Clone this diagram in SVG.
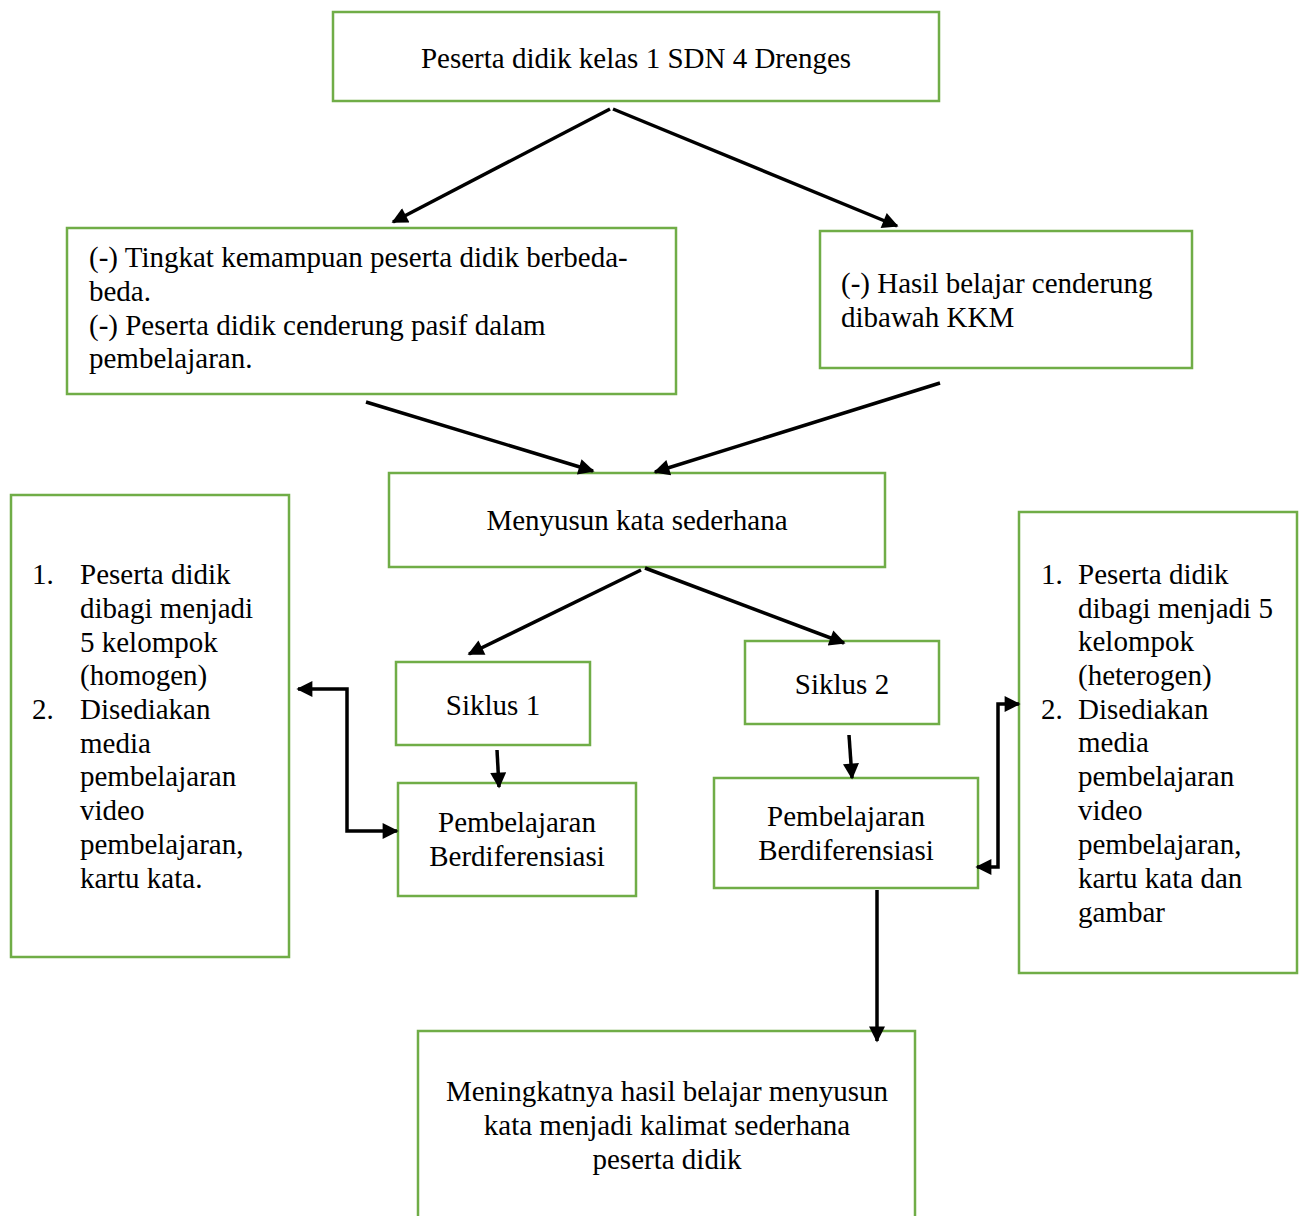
<svg xmlns="http://www.w3.org/2000/svg" width="1305" height="1216" viewBox="0 0 1305 1216">
<defs>
<marker id="ah" viewBox="0 0 10 10" refX="9" refY="5" markerWidth="19" markerHeight="16" markerUnits="userSpaceOnUse" orient="auto-start-reverse">
<path d="M0,0 L10,5 L0,10 Z" fill="#000"/>
</marker>
<style>
.box{fill:#fff;stroke:#70AD47;stroke-width:2.5}
.t{font-family:"Liberation Serif","Times New Roman",serif;font-size:29px;fill:#000}
.c{text-anchor:middle}
.ln{fill:none;stroke:#000;stroke-width:3.5}
</style>
</defs>
<rect width="1305" height="1216" fill="#fff"/>
<g id="n-top"><rect class="box" x="333" y="12" width="606" height="89"/><text class="t c" x="636" y="68">Peserta didik kelas 1 SDN 4 Drenges</text></g>
<g id="n-masalah1"><rect class="box" x="67" y="228" width="609" height="166"/><text class="t" x="89" y="267">(-) Tingkat kemampuan peserta didik berbeda-</text><text class="t" x="89" y="301">beda.</text><text class="t" x="89" y="335">(-) Peserta didik cenderung pasif dalam</text><text class="t" x="89" y="368">pembelajaran.</text></g>
<g id="n-masalah2"><rect class="box" x="820" y="231" width="372" height="137"/><text class="t" x="841" y="293">(-) Hasil belajar cenderung</text><text class="t" x="841" y="327">dibawah KKM</text></g>
<g id="n-menyusun"><rect class="box" x="389" y="473" width="496" height="94"/><text class="t c" x="637" y="530">Menyusun kata sederhana</text></g>
<g id="n-kiri"><rect class="box" x="11" y="495" width="278" height="462"/>
<text class="t" x="32" y="584">1.</text><text class="t" x="80" y="584">Peserta didik</text><text class="t" x="80" y="618">dibagi menjadi</text><text class="t" x="80" y="652">5 kelompok</text><text class="t" x="80" y="685">(homogen)</text><text class="t" x="32" y="719">2.</text><text class="t" x="80" y="719">Disediakan</text><text class="t" x="80" y="753">media</text><text class="t" x="80" y="786">pembelajaran</text><text class="t" x="80" y="820">video</text><text class="t" x="80" y="854">pembelajaran,</text><text class="t" x="80" y="888">kartu kata.</text></g>
<g id="n-siklus1"><rect class="box" x="396" y="662" width="194" height="83"/><text class="t c" x="493" y="715">Siklus 1</text></g>
<g id="n-siklus2"><rect class="box" x="745" y="641" width="194" height="83"/><text class="t c" x="842" y="694">Siklus 2</text></g>
<g id="n-pemb1"><rect class="box" x="398" y="783" width="238" height="113"/><text class="t c" x="517" y="832">Pembelajaran</text><text class="t c" x="517" y="866">Berdiferensiasi</text></g>
<g id="n-pemb2"><rect class="box" x="714" y="778" width="264" height="110"/><text class="t c" x="846" y="826">Pembelajaran</text><text class="t c" x="846" y="860">Berdiferensiasi</text></g>
<g id="n-kanan"><rect class="box" x="1019" y="512" width="278" height="461"/>
<text class="t" x="1041" y="584">1.</text><text class="t" x="1078" y="584">Peserta didik</text><text class="t" x="1078" y="618">dibagi menjadi 5</text><text class="t" x="1078" y="651">kelompok</text><text class="t" x="1078" y="685">(heterogen)</text><text class="t" x="1041" y="719">2.</text><text class="t" x="1078" y="719">Disediakan</text><text class="t" x="1078" y="752">media</text><text class="t" x="1078" y="786">pembelajaran</text><text class="t" x="1078" y="820">video</text><text class="t" x="1078" y="854">pembelajaran,</text><text class="t" x="1078" y="888">kartu kata dan</text><text class="t" x="1078" y="922">gambar</text></g>
<g id="n-hasil"><rect class="box" x="418" y="1031" width="497" height="200"/><text class="t c" x="667" y="1101">Meningkatnya hasil belajar menyusun</text><text class="t c" x="667" y="1135">kata menjadi kalimat sederhana</text><text class="t c" x="667" y="1169">peserta didik</text></g>
<g id="connectors">
<line class="ln" x1="610" y1="109" x2="393" y2="222" marker-end="url(#ah)"/>
<line class="ln" x1="613" y1="109" x2="897" y2="226" marker-end="url(#ah)"/>
<line class="ln" x1="366" y1="402" x2="593" y2="471" marker-end="url(#ah)"/>
<line class="ln" x1="940" y1="383" x2="655" y2="472" marker-end="url(#ah)"/>
<line class="ln" x1="641" y1="570" x2="469" y2="654" marker-end="url(#ah)"/>
<line class="ln" x1="645" y1="568" x2="844" y2="643" marker-end="url(#ah)"/>
<line class="ln" x1="497" y1="750" x2="499" y2="787" marker-end="url(#ah)"/>
<line class="ln" x1="849" y1="735" x2="852" y2="778" marker-end="url(#ah)"/>
<line class="ln" x1="877" y1="890" x2="877" y2="1041" marker-end="url(#ah)"/>
<polyline class="ln" points="298,689 347,689 347,831 397,831" marker-start="url(#ah)" marker-end="url(#ah)"/>
<polyline class="ln" points="1019,704 998,704 998,867 977,867" marker-start="url(#ah)" marker-end="url(#ah)"/>
</g>
</svg>
